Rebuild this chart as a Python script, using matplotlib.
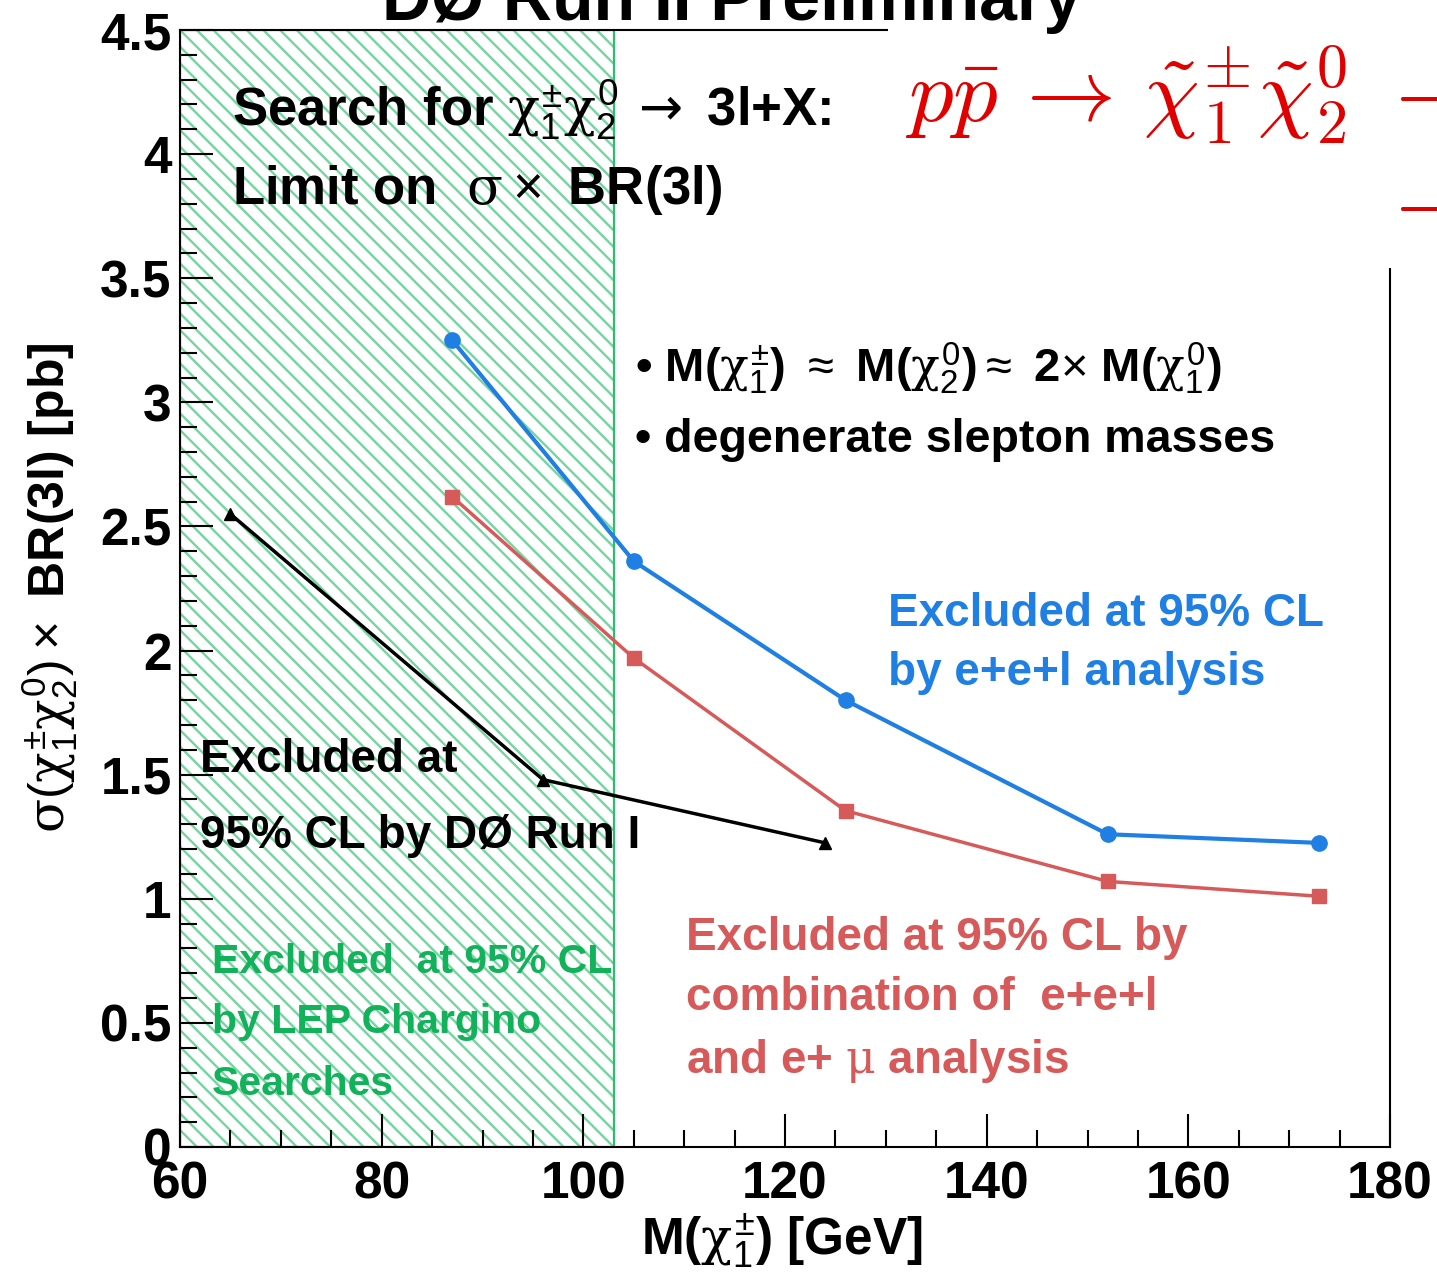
import matplotlib
matplotlib.use("Agg")
import matplotlib.pyplot as plt
from matplotlib.patches import Rectangle
from matplotlib.ticker import MultipleLocator, FixedLocator, FixedFormatter

# ---------------- data ----------------
mass_ee_l = [87, 105, 126, 152, 173]
limit_ee_l = [3.25, 2.36, 1.80, 1.26, 1.225]
mass_comb = [87, 105, 126, 152, 173]
limit_comb = [2.62, 1.97, 1.355, 1.07, 1.01]
mass_run1 = [65, 96, 124]
limit_run1 = [2.55, 1.48, 1.225]
lep_range = [60, 103]
x_ticks = [60, 80, 100, 120, 140, 160, 180]
x_tick_labels = ["60", "80", "100", "120", "140", "160", "180"]
y_ticks = [0, 0.5, 1, 1.5, 2, 2.5, 3, 3.5, 4, 4.5]
y_tick_labels = ["0", "0.5", "1", "1.5", "2", "2.5", "3", "3.5", "4", "4.5"]

BLUE = "#1f7fe2"
RED = "#d65a5a"
GREEN_TXT = "#12b25a"
GREEN_EDGE = "#2dbd6e"
GREEN_HATCH = "#74d5a0"

plt.rcParams["font.family"] = ["Liberation Sans", "DejaVu Sans"]
plt.rcParams["font.weight"] = "bold"
plt.rcParams["mathtext.fontset"] = "custom"
plt.rcParams["mathtext.rm"] = "Liberation Sans:weight=normal"
plt.rcParams["mathtext.it"] = "DejaVu Serif:weight=normal"
plt.rcParams["mathtext.bf"] = "Liberation Sans:weight=bold"
plt.rcParams["mathtext.sf"] = "DejaVu Sans:weight=normal"
plt.rcParams["hatch.linewidth"] = 1.7

W, H = 1437, 1275
fig = plt.figure(figsize=(W / 100, H / 100), dpi=100)
ax = fig.add_axes([180 / W, 1 - 1147 / H, (1390 - 180) / W, (1147 - 30) / H])

# LEP excluded region
ax.axvspan(lep_range[0], lep_range[1], facecolor="white", edgecolor=GREEN_HATCH,
           hatch="\\\\", linewidth=0, zorder=1)
ax.axvspan(lep_range[0], lep_range[1], facecolor="none", edgecolor=GREEN_EDGE,
           linewidth=1.6, zorder=3)

ax.plot(mass_ee_l, limit_ee_l, color=BLUE, lw=3, marker="o", ms=11, zorder=5)
ax.plot(mass_comb, limit_comb, color=RED, lw=2.5, marker="s", ms=10, zorder=5)
ax.plot(mass_run1, limit_run1, color="black", lw=2.5, marker="^", ms=8, zorder=5)

ax.set_xlim(60, 180)
ax.set_ylim(0, 4.5)
ax.xaxis.set_major_locator(FixedLocator(x_ticks))
ax.xaxis.set_major_formatter(FixedFormatter(x_tick_labels))
ax.yaxis.set_major_locator(FixedLocator(y_ticks))
ax.yaxis.set_major_formatter(FixedFormatter(y_tick_labels))
ax.xaxis.set_minor_locator(MultipleLocator(5))
ax.yaxis.set_minor_locator(MultipleLocator(0.1))
ax.tick_params(which="both", direction="in", top=False, right=False, width=1.5,
               colors="black")
ax.tick_params(which="major", length=24)
ax.tick_params(which="minor", length=12)
ax.tick_params(axis="x", which="major", pad=10)
ax.tick_params(axis="y", which="major", pad=6)
for lab in ax.get_xticklabels() + ax.get_yticklabels():
    lab.set_fontsize(37)
    lab.set_fontweight("bold")
for sp in ax.spines.values():
    sp.set_linewidth(1.5)
    sp.set_zorder(4)

# axis labels
fig.text(782 / W, 1 - 1255 / H, r"M($\chi_1^{\pm}$) [GeV]", ha="center",
         va="baseline", fontsize=37, fontweight="bold")
fig.text(50 / W, 1 - 588 / H, r"$\sigma(\chi_1^{\pm}\chi_2^{0})\times$ BR(3l) [pb]",
         rotation=90, ha="center", va="center", fontsize=36, fontweight="bold")

# in-plot texts
def dtext(x, y, s, **kw):
    ax.text(x, y, s, va="baseline", ha="left", fontweight="bold", zorder=6, **kw)

dtext(65.2, 4.11, r"Search for $\chi_1^{\pm}\chi_2^{0}\,\mathsf{\rightarrow}$ 3l+X:", fontsize=38)
dtext(65.2, 3.80, r"Limit on  $\sigma\times$ BR(3l)", fontsize=38)
dtext(105.1, 3.08, r"• M($\chi_1^{\pm}$) $\approx$ M($\chi_2^{0}$)$\approx$ 2$\times$ M($\chi_1^{0}$)",
      fontsize=34)
dtext(105.1, 2.80, "• degenerate slepton masses", fontsize=33.5)
dtext(130.2, 2.10, "Excluded at 95% CL", fontsize=33, color=BLUE)
dtext(130.2, 1.86, "by e+e+l analysis", fontsize=33, color=BLUE)
dtext(62.0, 1.51, "Excluded at", fontsize=33, color="black")
dtext(62.0, 1.205, "95% CL by DØ Run I", fontsize=33, color="black")
dtext(63.2, 0.70, "Excluded  at 95% CL", fontsize=29.5, color=GREEN_TXT)
dtext(63.2, 0.46, "by LEP Chargino", fontsize=29.5, color=GREEN_TXT)
dtext(63.2, 0.21, "Searches", fontsize=29.5, color=GREEN_TXT)
dtext(110.2, 0.794, "Excluded at 95% CL by", fontsize=33, color=RED)
dtext(110.2, 0.552, "combination of  e+e+l", fontsize=33, color=RED)
dtext(110.2, 0.30, r"and e+ $\mu$ analysis", fontsize=33, color=RED)

# white overlay box in the top-right corner
fig.add_artist(Rectangle((888 / W, 1 - 268 / H), 1.0, 1.0, transform=fig.transFigure,
                         facecolor="white", edgecolor="none", zorder=10))
fig.text(732 / W, 1 - 20 / H, "DØ Run II Preliminary", ha="center", va="baseline",
         fontsize=49, fontweight="bold", zorder=11)
fig.text(905 / W, 1 - 121 / H,
         r"$p\bar{p}\,\rightarrow\,\tilde{\chi}_1^{\pm}\tilde{\chi}_2^{0}$",
         ha="left", va="baseline", fontsize=64, color="#e00000",
         math_fontfamily="cm", zorder=11)
fig.text(1380 / W, 1 - 121 / H, r"$\rightarrow$", ha="left", va="baseline",
         fontsize=64, color="#e00000", math_fontfamily="cm", zorder=11)
fig.text(1380 / W, 1 - 231 / H, r"$\rightarrow$", ha="left", va="baseline",
         fontsize=64, color="#e00000", math_fontfamily="cm", zorder=11)

fig.savefig("out.png", dpi=100)
